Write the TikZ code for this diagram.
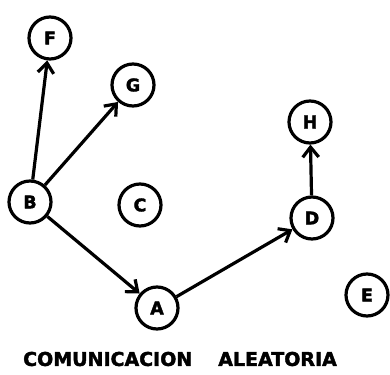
\documentclass[tikz,border=0pt]{standalone}
\usepackage{fontspec}
\setmainfont{DejaVu Sans}
\newfontfamily\heavyfont[FakeBold=2]{DejaVu Sans Bold}
\usetikzlibrary{arrows.meta}
\begin{document}
\begin{tikzpicture}[x=1pt,y=-1pt,
  vertex/.style={circle,draw,line width=3.2pt,minimum size=42pt,inner sep=0pt,font=\heavyfont\fontsize{17.5}{17.5}\selectfont},
  link/.style={line width=3.2pt,-{Straight Barb[length=10pt,width=16pt,line width=3.2pt]}}]
\useasboundingbox (0,0) rectangle (390,374);
\node[vertex] (F) at (50,38) {F};
\node[vertex] (G) at (133,85) {G};
\node[vertex] (B) at (30,202) {B};
\node[vertex] (C) at (140,205) {C};
\node[vertex] (A) at (157,308) {A};
\node[vertex] (E) at (367,295) {E};
\node[vertex] (H) at (310,122) {H};
\node[vertex] (D) at (312,218) {D};
\draw[link] (B) -- (F);
\draw[link] (B) -- (G);
\draw[link] (B) -- (A);
\draw[link] (A) -- (D);
\draw[link] (D) -- (H);
\node[font=\heavyfont\fontsize{19}{19}\selectfont] (cap) at (180,359) {COMUNICACION\hspace{26pt}ALEATORIA};
\end{tikzpicture}
\end{document}
